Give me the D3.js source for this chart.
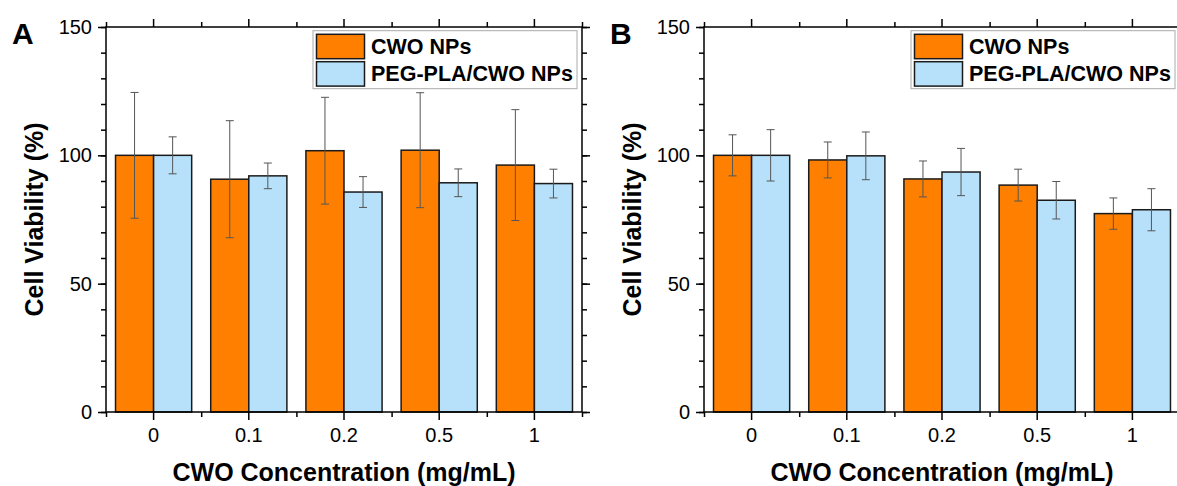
<!DOCTYPE html>
<html>
<head>
<meta charset="utf-8">
<script src="https://cdn.jsdelivr.net/npm/d3@7"></script>
<style>
  body { margin: 0; background: #fff; }
  text { font-family: "Liberation Sans", Arial, sans-serif; }
</style>
</head>
<body>
<div id="canvas"></div>
<script>
"use strict"

/* Data */
let concentrations = ["0", "0.1", "0.2", "0.5", "1"];
let seriesNames = ["CWO NPs", "PEG-PLA/CWO NPs"];
let yTicks = [0, 50, 100, 150];

/* panel A */
let cwoA = [100, 90.7, 101.8, 102, 96.2];
let cwoErrA = [24.5, 22.8, 20.8, 22.4, 21.6];
let pegA = [100, 92, 85.7, 89.3, 89];
let pegErrA = [7.2, 5, 6, 5.4, 5.6];

/* panel B */
let cwoB = [100, 98.2, 90.8, 88.4, 77.3];
let cwoErrB = [8, 7, 7, 6.2, 6.1];
let pegB = [100, 99.8, 93.5, 82.5, 78.8];
let pegErrB = [10, 9.3, 9.2, 7.3, 8.2];

/* Configuration variables: drawing */
let svgWidth = 1177;
let svgHeight = 486;
let plotTop = 27;
let plotBottom = 412;
let plotWidth = 476;
let colors = ["#ff8000", "#b7e1fa"];

let svg = d3.select("#canvas")
    .append("svg")
    .attr("width", svgWidth)
    .attr("height", svgHeight);

let y = d3.scaleLinear()
    .domain([0, 150])
    .range([plotBottom, plotTop]);

function drawPanel(left, letter, cwo, cwoErr, peg, pegErr) {
    let right = left + plotWidth;
    let g = svg.append("g");

    let x = d3.scaleBand()
        .domain(concentrations)
        .range([left, right])
        .padding(0);
    let bw = x.bandwidth();
    let xInner = d3.scaleBand()
        .domain(seriesNames)
        .range([bw * 0.1, bw * 0.9]);
    // boundaries between categories, for the minor ticks
    let xEdge = d3.scaleLinear()
        .domain([0, concentrations.length])
        .range([left, right]);

    let rows = concentrations.map(function (c, i) {
        return [
            { cat: c, s: seriesNames[0], v: cwo[i], e: cwoErr[i] },
            { cat: c, s: seriesNames[1], v: peg[i], e: pegErr[i] }
        ];
    }).flat();

    /* bars */
    g.selectAll("rect.bar")
        .data(rows)
        .join("rect")
        .attr("class", "bar")
        .attr("x", d => x(d.cat) + xInner(d.s))
        .attr("y", d => y(d.v))
        .attr("width", xInner.bandwidth())
        .attr("height", d => y(0) - y(d.v))
        .attr("fill", d => colors[seriesNames.indexOf(d.s)])
        .attr("stroke", "#1a1a1a")
        .attr("stroke-width", 1.5);

    /* error bars */
    let eb = g.selectAll("g.err")
        .data(rows)
        .join("g")
        .attr("class", "err")
        .attr("stroke", "#555")
        .attr("stroke-width", 1);
    eb.append("line")
        .attr("x1", d => x(d.cat) + xInner(d.s) + xInner.bandwidth() / 2)
        .attr("x2", d => x(d.cat) + xInner(d.s) + xInner.bandwidth() / 2)
        .attr("y1", d => y(d.v + d.e))
        .attr("y2", d => y(d.v - d.e));
    [1, -1].forEach(function (sign) {
        eb.append("line")
            .attr("x1", d => x(d.cat) + xInner(d.s) + xInner.bandwidth() / 2 - 4)
            .attr("x2", d => x(d.cat) + xInner(d.s) + xInner.bandwidth() / 2 + 4)
            .attr("y1", d => y(d.v + sign * d.e))
            .attr("y2", d => y(d.v + sign * d.e));
    });

    /* axes */
    let axisStyle = function (sel) {
        sel.select(".domain").remove();
        sel.selectAll("line").attr("stroke", "#000").attr("stroke-width", 1.5);
        sel.selectAll("text")
            .attr("font-size", 20)
            .attr("fill", "#000");
    };

    g.append("g")
        .attr("transform", `translate(0,${plotBottom})`)
        .call(d3.axisBottom(x).tickSize(8).tickPadding(8))
        .call(axisStyle);
    g.append("g")
        .attr("transform", `translate(0,${plotBottom})`)
        .call(d3.axisBottom(xEdge).tickValues(d3.range(concentrations.length + 1)).tickFormat("").tickSize(5))
        .call(axisStyle);
    g.append("g")
        .attr("transform", `translate(0,${plotTop})`)
        .call(d3.axisTop(x).tickSize(8).tickFormat(""))
        .call(axisStyle);
    g.append("g")
        .attr("transform", `translate(0,${plotTop})`)
        .call(d3.axisTop(xEdge).tickValues(d3.range(concentrations.length + 1)).tickFormat("").tickSize(5))
        .call(axisStyle);

    g.append("g")
        .attr("transform", `translate(${left},0)`)
        .call(d3.axisLeft(y).tickValues(yTicks).tickSize(8).tickPadding(6))
        .call(axisStyle);
    g.append("g")
        .attr("transform", `translate(${left},0)`)
        .call(d3.axisLeft(y).ticks(15).tickFormat("").tickSize(5))
        .call(axisStyle);
    g.append("g")
        .attr("transform", `translate(${right},0)`)
        .call(d3.axisRight(y).tickValues(yTicks).tickSize(8).tickFormat(""))
        .call(axisStyle);
    g.append("g")
        .attr("transform", `translate(${right},0)`)
        .call(d3.axisRight(y).ticks(15).tickFormat("").tickSize(5))
        .call(axisStyle);

    /* frame */
    g.append("rect")
        .attr("x", left)
        .attr("y", plotTop)
        .attr("width", plotWidth)
        .attr("height", plotBottom - plotTop)
        .attr("fill", "none")
        .attr("stroke", "#000")
        .attr("stroke-width", 1.5);

    /* axis titles */
    g.append("text")
        .attr("x", (left + right) / 2)
        .attr("y", 481)
        .attr("text-anchor", "middle")
        .attr("font-size", 25)
        .attr("font-weight", "bold")
        .text("CWO Concentration (mg/mL)");
    g.append("text")
        .attr("transform", "rotate(-90)")
        .attr("x", -(plotTop + plotBottom) / 2)
        .attr("y", left - 63)
        .attr("text-anchor", "middle")
        .attr("font-size", 25)
        .attr("font-weight", "bold")
        .text("Cell Viability (%)");

    /* panel letter */
    g.append("text")
        .attr("x", left - 94)
        .attr("y", 44)
        .attr("font-size", 30)
        .attr("font-weight", "bold")
        .text(letter);

    /* legend */
    let lg = g.append("g")
        .attr("transform", `translate(${left + 207},30.7)`);
    lg.append("rect")
        .attr("width", 264)
        .attr("height", 58)
        .attr("fill", "#fff")
        .attr("stroke", "#aaa")
        .attr("stroke-width", 1);
    seriesNames.forEach(function (name, i) {
        lg.append("rect")
            .attr("x", 3.5)
            .attr("y", 3.6 + i * 27.4)
            .attr("width", 48)
            .attr("height", 24.4)
            .attr("fill", colors[i])
            .attr("stroke", "#1a1a1a")
            .attr("stroke-width", 1.5);
        lg.append("text")
            .attr("x", 58)
            .attr("y", 23.3 + i * 27)
            .attr("font-size", 21.5)
            .attr("font-weight", "bold")
            .text(name);
    });
}

drawPanel(106, "A", cwoA, cwoErrA, pegA, pegErrA);
drawPanel(704, "B", cwoB, cwoErrB, pegB, pegErrB);
</script>
</body>
</html>
